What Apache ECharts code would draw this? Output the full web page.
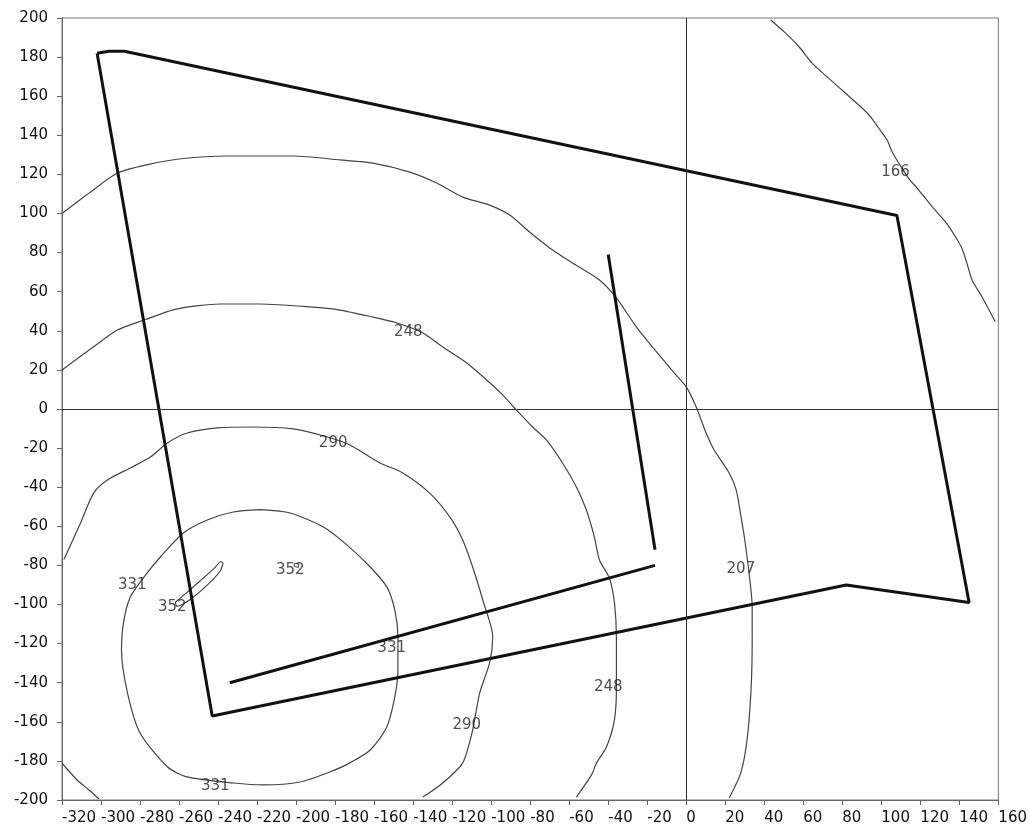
<!DOCTYPE html>
<html>
<head>
<meta charset="utf-8">
<script src="https://cdn.jsdelivr.net/npm/echarts@6/dist/echarts.min.js"></script>
<style>
html,body{margin:0;padding:0;background:#fff;}
#chart{width:1030px;height:828px;}
</style>
</head>
<body>
<div id="chart"></div>
<script>
// ---- axis ranges ----
const xRange = [-320, 160];
const yRange = [-200, 200];
const tickStep = 20;
const zeroLines = { x: 0, y: 0 };

// ---- thick outline lines ----
const boundary = [[-302,182],[-296,183],[-288,183],[108,99],[145,-99],[82,-90],[-243,-157],[-302,182]];
const innerLine = [[-234,-140],[-16,-80]];
const verticalLine = [[-40,79],[-16,-72]];
const marker = [[-218,-124]];

// ---- contour lines ----
const contour166 = [[43.3,199],[50.1,193],[57.8,185.3],[64.6,176.8],[73.1,169.1],[81.7,161.5],[89.3,154.7],[94.4,149.6],[98.7,143.6],[103,137.6],[105.5,131.6],[109,125.7],[114,118],[119.2,112],[126,103.5],[132.8,95.8],[138,88.1],[141.3,82.2],[143.9,74.5],[146.5,66],[151.6,57.4],[158.4,44.6]];
const contour207 = [[-320,100],[-304,112],[-291.6,120.7],[-276,125],[-259,128],[-235,129.4],[-201.5,129.4],[-177.5,127.4],[-160.6,125.8],[-141.7,121.2],[-127.9,115.6],[-114.6,108.4],[-100.8,104.3],[-90.5,99.2],[-80.3,90.5],[-70,82.4],[-58.3,74.7],[-44.5,66],[-35.8,56.8],[-25.6,42],[-16.5,30.7],[-6.1,18.4],[0,11.3],[5.1,1],[10.2,-12.3],[14.3,-21],[22,-32.7],[25.6,-41.4],[28.1,-55.2],[30,-67],[32.2,-84],[33.8,-101],[33.8,-118],[33.2,-144],[31.2,-169],[28,-186],[22,-199]];
const contour248 = [[-320,20],[-304,31.7],[-291.6,40.4],[-278,45.5],[-261,51.2],[-239,53.7],[-218.4,53.7],[-193,52.2],[-177.5,50.6],[-160.6,47],[-148.3,44],[-135,38.9],[-124.8,31.7],[-112.5,23.5],[-102.3,14.8],[-94.1,7.2],[-88,0.5],[-78.8,-9.2],[-71.6,-15.9],[-63.4,-27.6],[-56.3,-39.9],[-51.2,-51.7],[-47.1,-65.5],[-44.5,-77.2],[-39.4,-86.5],[-36.8,-99.2],[-35.8,-117],[-35.8,-142.2],[-36.8,-159],[-40.9,-172.9],[-46,-181],[-48.5,-187],[-56.3,-198.5]];
const contour290 = [[-319,-77],[-310.5,-58.3],[-303.8,-43],[-296.7,-36.3],[-285,-30.2],[-274.7,-24.6],[-266,-17.4],[-255.8,-12.3],[-240.4,-9.7],[-222,-9.2],[-201.5,-10.2],[-184,-14.3],[-172.4,-18.4],[-157,-27.6],[-145.3,-32.7],[-131.5,-43],[-121.2,-55.2],[-114.6,-67],[-109.5,-80.8],[-104.3,-97.7],[-99.2,-116.6],[-100.8,-129.9],[-105.9,-145.3],[-109.5,-164.2],[-114.6,-181],[-124.8,-191.3],[-135,-198.5]];
const contour331 = [[-218,-51.5],[-203,-53.2],[-186,-60.4],[-174,-69.5],[-162,-80.8],[-153.5,-91],[-149.4,-102.8],[-147.8,-116.6],[-147.8,-133.5],[-149.4,-147.3],[-153.5,-162.7],[-162,-174.4],[-172.4,-181],[-181,-185],[-198,-190.8],[-217,-192.3],[-232,-191.3],[-256,-188.2],[-266,-183],[-280,-165.7],[-286.4,-145.3],[-289.5,-123.3],[-288.5,-109.5],[-285,-96.2],[-278,-86],[-269.6,-75.7],[-257.8,-63.4],[-245.5,-56.8],[-232.2,-52.7],[-218,-51.5]];
const contour352a = [[-262,-99],[-251,-89.5],[-242,-81.5],[-238.5,-78],[-237.5,-78.8],[-239,-83],[-246,-90.5],[-255,-98],[-261,-101],[-262,-99]];
const contour352b = [[-201,-79],[-198.5,-79.3],[-198.8,-81],[-201,-80.6],[-201,-79]];
const contourCorner = [[-320,-181],[-318,-183.5],[-312,-190],[-306,-195],[-301,-199.5]];

// ---- contour labels [x, y, text] ----
const contourLabels = [
  [107.3,121.1,'166'],
  [-142.5,39.5,'248'],
  [-181,-17.4,'290'],
  [28,-82,'207'],
  [-284,-90,'331'],
  [-203,-82.3,'352'],
  [-263.5,-101.5,'352'],
  [-151,-122.4,'331'],
  [-40,-142,'248'],
  [-112.5,-161.6,'290'],
  [-241.4,-192.8,'331']
];

const FONT = 'DejaVu Sans';
const chart = echarts.init(document.getElementById('chart'), null, {renderer:'canvas'});

function lineSeries(data, width, color, z, smooth) {
  return {
    type: 'line', data: data, showSymbol: false, symbol: 'none',
    smooth: smooth || false,
    lineStyle: { width: width, color: color }, silent: true, z: z,
    animation: false
  };
}

const contourColor = '#444';
const thickColor = '#111';

const series = [
  Object.assign(lineSeries(contour166, 1.2, contourColor, 2, 0.25), {
    markLine: {
      symbol: 'none', silent: true, animation: false,
      label: { show: false },
      lineStyle: { color: '#333', width: 1, type: 'solid' },
      data: [{ xAxis: zeroLines.x }, { yAxis: zeroLines.y }]
    }
  }),
  lineSeries(contour207, 1.2, contourColor, 2, 0.25),
  lineSeries(contour248, 1.2, contourColor, 2, 0.25),
  lineSeries(contour290, 1.2, contourColor, 2, 0.25),
  lineSeries(contour331, 1.2, contourColor, 2, 0.25),
  lineSeries(contour352a, 1.2, contourColor, 2, 0.2),
  lineSeries(contour352b, 1, contourColor, 2),
  lineSeries(contourCorner, 1.2, contourColor, 2, 0.25),
  lineSeries(boundary, 3, thickColor, 3),
  lineSeries(innerLine, 3, thickColor, 3),
  lineSeries(verticalLine, 3, thickColor, 3),
  {
    type: 'scatter', data: marker, symbol: 'emptyCircle', symbolSize: 6,
    itemStyle: { color: '#fff', borderColor: '#111', borderWidth: 2 },
    silent: true, animation: false, z: 4
  },
  {
    type: 'scatter', data: contourLabels, symbolSize: 1,
    itemStyle: { color: 'transparent' },
    label: {
      show: true, position: 'inside',
      formatter: p => p.value[2],
      color: '#222', fontSize: 15, fontFamily: FONT
    },
    silent: true, animation: false, z: 5
  }
];

chart.setOption({
  backgroundColor: '#fff',
  animation: false,
  grid: {
    left: 62, right: 29, top: 18, bottom: 28,
    show: true, borderColor: '#777', borderWidth: 1, backgroundColor: 'transparent'
  },
  xAxis: {
    type: 'value', min: xRange[0], max: xRange[1], interval: tickStep,
    axisLine: { show: true, onZero: false, lineStyle: { color: '#666', width: 1 } },
    axisTick: { show: true, inside: false, length: 5, lineStyle: { color: '#666' } },
    axisLabel: { color: '#111', fontSize: 15, fontFamily: FONT, align: 'left', margin: 11 },
    splitLine: { show: false }
  },
  yAxis: {
    type: 'value', min: yRange[0], max: yRange[1], interval: tickStep,
    axisLine: { show: true, onZero: false, lineStyle: { color: '#666', width: 1 } },
    axisTick: { show: true, inside: false, length: 5, lineStyle: { color: '#666' } },
    axisLabel: { color: '#111', fontSize: 15, fontFamily: FONT, margin: 14 },
    splitLine: { show: false }
  },
  series: series
});
</script>
</body>
</html>
